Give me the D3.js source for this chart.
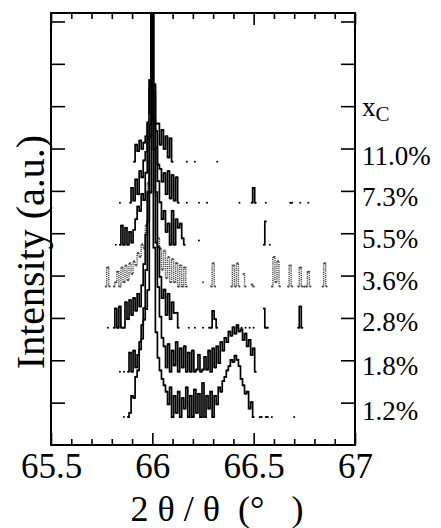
<!DOCTYPE html>
<html><head><meta charset="utf-8">
<script src="https://cdn.jsdelivr.net/npm/d3@7/dist/d3.min.js"></script>
<style>body{margin:0;background:#fff}svg{display:block}</style>
</head><body><svg id="chart" width="441" height="528"></svg>
<script>
// ---- data ----
const twoTheta = [
65.76,65.77,65.78,65.79,65.80,65.81,65.82,65.83,65.84,65.85,
65.86,65.87,65.88,65.89,65.90,65.91,65.92,65.93,65.94,65.95,
65.96,65.97,65.98,65.99,66.00,66.01,66.02,66.03,66.04,66.05,
66.06,66.07,66.08,66.09,66.10,66.11,66.12,66.13,66.14,66.15,
66.16,66.17,66.18,66.19,66.20,66.21,66.22,66.23,66.24,66.25,
66.26,66.27,66.28,66.29,66.30,66.31,66.32,66.33,66.34,66.35,
66.36,66.37,66.38,66.39,66.40,66.41,66.42,66.43,66.44,66.45,
66.46,66.47,66.48,66.49,66.50,66.51,66.52,66.53,66.54,66.55,
66.56,66.57,66.58,66.59,66.60,66.61,66.62,66.63,66.64,66.65,
66.66,66.67,66.68,66.69,66.70,66.71,66.72,66.73,66.74,66.75,
66.76,66.77,66.78,66.79,66.80,66.81,66.82,66.83,66.84,66.85,
66.86];

const concentrations = ["11.0%","7.3%","5.5%","3.6%","2.8%","1.8%","1.2%"];
// vertical offset (decades) of each trace's baseline
const offsets = [6.69, 5.72, 4.73, 3.74, 2.77, 1.73, 0.66];

// log intensity above each trace's baseline (null = no counts)
const s110 = [
null,null,null,null,null,null,null,null,null,null,
null,null,null,null,null,0,0.4,0.25,0.5,0.3,
0.45,0.6,0.9,1.9,3.46,1.8,0.9,0.9,0.4,0.75,
0.3,0.6,0.1,0.55,0,null,null,null,null,null,
null,0,null,null,null,0,null,null,null,null,
null,null,null,null,null,null,0,null,null,null,
null,null,null,null,null,null,null,null,null,null,
null,null,null,null,null,null,null,null,null,null,
null,null,null,null,null,null,null,null,null,null,
null,null,null,null,null,null,null,null,null,null,
null,null,null,null,null,null,null,null,null,null,
null];
const s73 = [
null,null,null,null,null,null,null,null,0,null,
null,null,null,0,0.35,0.05,0.55,0.2,0.75,0.6,
1.0,1.2,1.9,2.9,4.43,2.8,1.7,0.9,0.8,0.5,
0.7,0.2,0.75,0.1,0.65,0.05,0.6,0,null,null,
null,0,null,null,null,null,null,0,null,null,
null,0,null,null,null,null,null,null,null,null,
null,null,null,null,null,null,null,0,null,null,
null,null,null,0,0.35,0,null,null,null,null,
0,null,null,null,null,null,null,null,null,null,
null,null,0,0,null,null,null,0,null,null,
null,0,null,null,null,null,null,null,null,null,
null];
const s55 = [
null,null,null,null,null,null,0,null,0,0.45,
0,0.4,0,0.3,0.05,0.35,0.6,0.9,0.8,1.2,
1.05,1.7,2.5,3.7,5.42,3.6,2.3,1.5,1.0,0.6,
0.8,0.3,0.5,0,0.8,0,0.6,0.4,0.5,0.15,
0,null,null,null,null,null,null,0.1,null,null,
null,null,null,null,null,null,null,null,null,null,
null,null,null,null,null,null,null,null,null,null,
null,null,null,null,null,null,null,null,null,0,
0.55,null,0,null,null,null,null,null,null,null,
null,null,null,null,null,null,null,null,null,null,
null,null,null,null,null,null,null,null,null,null,
null];
const s36 = [
null,0,0.45,0,null,0,0.1,0.35,0,0.45,
0.1,0.5,0.15,0.55,0.3,0.6,0.5,0.8,0.7,1.0,
0.9,1.45,2.45,4.05,6.41,3.85,2.15,1.15,0.9,0.4,
0.85,0.2,0.7,0.1,0.65,0.1,0.55,0,0.5,0,
0.45,0,null,null,null,null,null,null,null,0.1,
null,null,null,0,0.55,0,null,null,null,null,
null,null,null,0,0.5,0,0.55,0,null,0.3,
0,null,null,0.05,0,null,null,null,null,null,
null,null,null,0,0.7,0.1,0.6,0,null,null,
null,0,0.5,0,null,null,0,0.45,0,0,
0,0.35,0,null,null,null,null,null,0,0.55,
0];
const s28 = [
null,null,0,null,null,0,0.45,0,0.5,0,
0,0.6,0.2,0.65,0.3,0.7,0.4,0.8,0.5,1.0,
1.5,2.2,3.2,4.8,7.38,4.9,3.2,1.9,1.2,0.7,
0.9,0.3,0.8,0.2,0.6,0.35,0.35,0,null,null,
null,null,0,null,null,0,null,null,null,0,
null,null,0,0,0.4,0.2,0,null,null,null,
null,null,null,null,null,null,0,null,0,null,
0,null,0,null,0,null,null,null,null,0.45,
0,0,null,null,null,null,null,null,null,null,
null,null,null,null,null,null,0,0.5,0,null,
null,null,null,null,null,null,null,null,null,null,
null];
const s18 = [
null,null,null,null,null,null,null,null,0,null,
0,null,0,0.45,0,0.5,0.1,0.4,0.7,1.1,
1.5,2.4,3.55,5.55,8.42,5.25,3.05,2.0,1.3,0.8,
0.6,0.1,0.65,0,0.5,0.15,0.7,0,0.55,0.1,
0.6,0,0.45,0,0.5,0,0.05,0.4,0,0.05,
0.35,0.05,0.5,0,0.55,0.1,0.6,0.2,0.7,0.5,
0.8,0.7,0.95,0.85,1.05,0.9,1.1,0.95,1.0,0.75,
0.9,0.6,0.75,0.4,0.55,0,null,null,null,null,
null,null,null,null,null,null,null,null,null,null,
null,null,null,null,null,null,null,null,null,null,
null,null,null,null,null,null,null,null,null,null,
null];
const s12 = [
null,null,null,null,null,null,null,null,null,null,
0,null,0,0.1,0.5,0.45,0.95,1.1,1.6,1.85,
2.3,2.55,3.0,5.3,9.49,4.0,2.0,1.4,1.1,0.9,
0.75,0.6,0.3,0.7,0,0.5,0.1,0.6,0,0.45,
0.2,0.7,0,0.5,0,0.65,0.1,0.55,0,0.8,
0,0.5,0.2,0.6,0,0.5,0.3,0.7,0.6,0.85,
0.95,1.1,1.2,1.35,1.3,1.45,1.35,1.2,0.9,0.75,
0.55,0.6,0.2,0.35,0,null,null,0,0,null,
0,0,null,0,null,null,null,null,null,null,
null,null,null,null,0,null,null,null,null,null,
null,null,null,null,null,null,null,null,null,null,
null];
const seriesValues = [s110, s73, s55, s36, s28, s18, s12];

const xMajorTicks = [65.5, 66, 66.5, 67];
const xMinorTicks = [65.6,65.7,65.8,65.9,66.1,66.2,66.3,66.4,66.6,66.7,66.8,66.9];
const yTicks = [1,2,3,4,5,6,7,8,9,10];
const xTitle = "2 θ / θ  (°   )";
const yTitle = "Intensity (a.u.)";

// ---- drawing ----
const serif = "'Liberation Serif','Times New Roman',serif";
const svg = d3.select("#chart");
const L = 51, R = 355, T = 13, B = 445;
const x = d3.scaleLinear().domain([65.5, 67]).range([L, R]);
const y = d3.scaleLinear().domain([0, 10.2]).range([B, T]);

function styleAxis(g){
  g.select(".domain").remove();
  g.selectAll(".tick line").attr("stroke","#000").attr("stroke-width",1.6);
}
svg.append("g").attr("transform",`translate(0,${B})`)
  .call(d3.axisBottom(x).tickValues(xMinorTicks).tickSize(-6).tickFormat(""))
  .call(styleAxis);
const bx = svg.append("g").attr("transform",`translate(0,${B})`)
  .call(d3.axisBottom(x).tickValues(xMajorTicks).tickSize(-12).tickFormat(d3.format("")))
  .call(styleAxis);
bx.selectAll(".tick text").attr("y",33).attr("dy",0)
  .attr("font-family",serif).attr("font-size","35px").attr("fill","#000");
svg.append("g").attr("transform",`translate(0,${T})`)
  .call(d3.axisTop(x).tickValues(xMinorTicks).tickSize(-6).tickFormat(""))
  .call(styleAxis);
svg.append("g").attr("transform",`translate(0,${T})`)
  .call(d3.axisTop(x).tickValues(xMajorTicks).tickSize(-12).tickFormat(""))
  .call(styleAxis);
svg.append("g").attr("transform",`translate(${L},0)`)
  .call(d3.axisLeft(y).tickValues(yTicks).tickSize(-14).tickFormat(""))
  .call(styleAxis);
svg.append("g").attr("transform",`translate(${R},0)`)
  .call(d3.axisRight(y).tickValues(yTicks).tickSize(-14).tickFormat(""))
  .call(styleAxis);

// traces
const line = d3.line().defined(d => d.v !== null).curve(d3.curveStep)
  .x(d => x(d.t)).y(d => y(d.o + d.v));
seriesValues.forEach((vals, k) => {
  const pts = twoTheta.map((t, i) => ({t, v: vals[i], o: offsets[k]}));
  const dotted = concentrations[k] === "3.6%";
  svg.append("path").datum(pts).attr("d", line)
    .attr("fill","none").attr("stroke", dotted ? "#444" : "#000")
    .attr("stroke-width", dotted ? 1.4 : 1.7)
    .attr("stroke-dasharray", dotted ? "1.2,0.9" : null);
  svg.append("g").selectAll("circle").data(pts.filter(d => d.v !== null)).join("circle")
    .attr("cx", d => x(d.t)).attr("cy", d => y(d.o + d.v)).attr("r", 1)
    .attr("fill", dotted ? "#444" : "#000");
});

// frame
svg.append("rect").attr("x",L).attr("y",T).attr("width",R-L).attr("height",B-T)
  .attr("fill","none").attr("stroke","#000").attr("stroke-width",2);

// right labels
svg.append("g").selectAll("text").data(concentrations).join("text")
  .attr("x", 362).attr("y", (d, k) => y(offsets[k]) + 3)
  .attr("font-family", serif).attr("font-size","27px").attr("fill","#000")
  .text(d => d);
const xc = svg.append("text").attr("x",362).attr("y",116)
  .attr("font-family",serif).attr("font-size","27px").attr("fill","#000");
xc.append("tspan").text("x");
xc.append("tspan").attr("dy",5).attr("font-size","21px").text("C");

// axis titles
svg.append("text").attr("x",217).attr("y",521).attr("text-anchor","middle")
  .attr("font-family",serif).attr("font-size","36px").attr("fill","#000")
  .style("white-space","pre").text(xTitle);
svg.append("text").attr("transform","translate(44,252) rotate(-90)")
  .attr("text-anchor","middle").attr("font-family",serif).attr("font-size","40px")
  .attr("fill","#000").text(yTitle);
</script></body></html>
